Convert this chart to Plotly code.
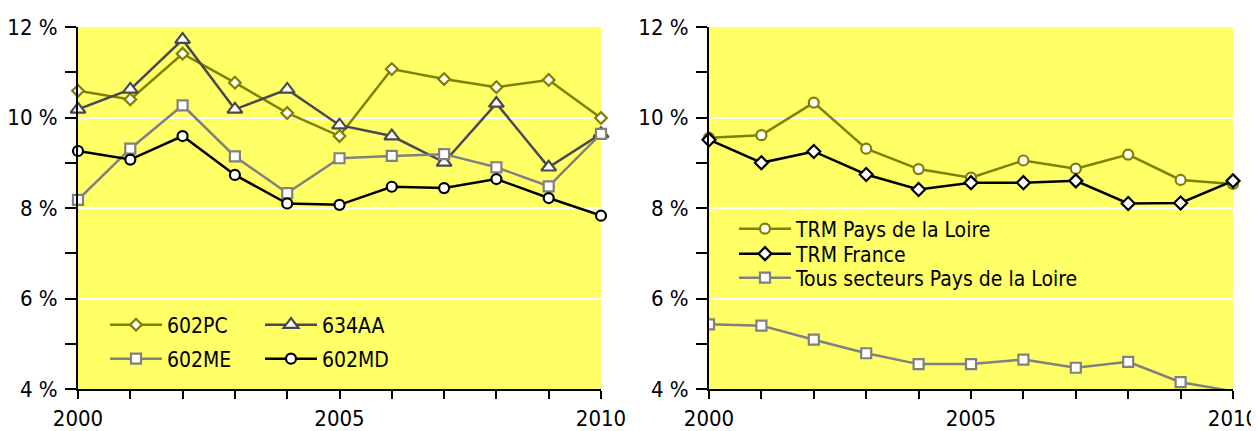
import plotly.graph_objects as go

years = list(range(2000, 2011))

# Left panel
s_602PC = [10.59, 10.40, 11.41, 10.77, 10.10, 9.59, 11.07, 10.85, 10.67, 10.83, 9.99]
s_634AA = [10.18, 10.62, 11.72, 10.18, 10.62, 9.83, 9.59, 9.01, 10.31, 8.90, 9.64]
s_602ME = [8.18, 9.31, 10.27, 9.14, 8.33, 9.10, 9.15, 9.19, 8.90, 8.48, 9.64]
s_602MD = [9.26, 9.07, 9.59, 8.73, 8.10, 8.07, 8.47, 8.44, 8.64, 8.22, 7.83]

# Right panel
s_trm_pdl = [9.55, 9.61, 10.33, 9.31, 8.86, 8.67, 9.05, 8.87, 9.18, 8.62, 8.53]
s_trm_fr = [9.51, 9.00, 9.25, 8.74, 8.41, 8.56, 8.56, 8.60, 8.10, 8.11, 8.60]
s_tous_pdl = [5.43, 5.40, 5.09, 4.79, 4.55, 4.55, 4.65, 4.47, 4.60, 4.15, 3.95]

y_tickvals = [4, 6, 8, 10, 12]
y_ticktext = ["4 %", "6 %", "8 %", "10 %", "12 %"]
x_tickvals = [2000, 2005, 2010]
x_ticktext = ["2000", "2005", "2010"]

FONT = "DejaVu Sans Condensed, Liberation Sans Narrow, sans-serif"
OLIVE = "#808000"
DARK = "#484850"
GRAY = "#808080"
BLACK = "#000000"
YELLOW = "#FFFF66"

# the page body adds an 8px offset; screen coords = figure coords + OFF
OFF = 8
W, H = 1259, 431
MT = 27 - OFF
MB = H - (389 - OFF)
PH = H - MT - MB


def px_x(p):
    return (p - OFF) / W


def px_y(p):
    return 1 - (p - OFF - MT) / PH


fig = go.Figure()


def add(name, y, color, symbol, size, xa, ya, legend, clip=False):
    fig.add_trace(go.Scatter(
        x=years, y=y, name=name, mode="lines+markers",
        line=dict(color=color, width=2.5),
        marker=dict(symbol=symbol, size=size, color="white",
                    line=dict(color=color, width=2.2)),
        xaxis=xa, yaxis=ya, legend=legend, cliponaxis=clip,
    ))


add("602PC", s_602PC, OLIVE, "diamond", 9, "x", "y", "legend")
add("634AA", s_634AA, DARK, "triangle-up", 13, "x", "y", "legend2")
add("602ME", s_602ME, GRAY, "square", 10, "x", "y", "legend3")
add("602MD", s_602MD, BLACK, "circle", 10, "x", "y", "legend4")
add("TRM Pays de la Loire", s_trm_pdl, OLIVE, "circle", 10, "x2", "y2", "legend5")
add("TRM France", s_trm_fr, BLACK, "diamond", 10, "x2", "y2", "legend6")
add("Tous secteurs Pays de la Loire", s_tous_pdl, GRAY, "square", 10, "x2", "y2", "legend7", clip=True)

xdom1 = [px_x(78), px_x(601)]
xdom2 = [px_x(709), px_x(1233)]

TICKFONT = dict(family=FONT, size=22, color="black")

xcommon = dict(range=[2000, 2010], tickvals=x_tickvals, ticktext=x_ticktext,
               ticks="outside", ticklen=8, tickwidth=2, tickcolor="black",
               minor=dict(dtick=1, tick0=2000, ticks="outside", ticklen=8, tickwidth=2,
                          tickcolor="black", showgrid=False),
               showline=True, linecolor="black", linewidth=2, showgrid=False,
               zeroline=False, tickfont=TICKFONT, ticklabelstandoff=1, automargin=False,
               fixedrange=True)
ycommon = dict(range=[4, 12], tickvals=y_tickvals, ticktext=y_ticktext,
               ticks="outside", ticklen=11, tickwidth=2, tickcolor="black",
               minor=dict(dtick=1, tick0=4, ticks="outside", ticklen=11, tickwidth=2,
                          tickcolor="black", showgrid=False),
               showline=True, linecolor="black", linewidth=2,
               showgrid=True, gridcolor="white", gridwidth=2, zeroline=False,
               tickfont=TICKFONT, ticklabelstandoff=3, automargin=False,
               fixedrange=True)

xin = dict(range=[2000, 2010], tickvals=years, ticks="inside", ticklen=9, tickwidth=2,
           tickcolor="black", showticklabels=False, showline=False, showgrid=False,
           zeroline=False, fixedrange=True, automargin=False)
yin = dict(range=[4, 12], tickvals=[4, 5, 6, 7, 8, 9, 10, 11, 12], ticks="inside", ticklen=5,
           tickwidth=2, tickcolor="black", showticklabels=False, showline=False,
           showgrid=False, zeroline=False, fixedrange=True, automargin=False)

fig.update_layout(
    width=W, height=H,
    margin=dict(l=0, r=0, t=MT, b=MB, pad=0, autoexpand=False),
    paper_bgcolor="white", plot_bgcolor=YELLOW,
    font=dict(family=FONT, size=21, color="black"),
    xaxis=dict(domain=xdom1, anchor="y", **xcommon),
    yaxis=dict(domain=[0, 1], anchor="x", **ycommon),
    xaxis2=dict(domain=xdom2, anchor="y2", **xcommon),
    yaxis2=dict(domain=[0, 1], anchor="x2", **ycommon),
    xaxis3=dict(overlaying="x", anchor="y", **xin),
    yaxis3=dict(overlaying="y", anchor="x", **yin),
    xaxis4=dict(overlaying="x2", anchor="y2", **xin),
    yaxis4=dict(overlaying="y2", anchor="x2", **yin),
    showlegend=True,
)

leg_common = dict(bgcolor="rgba(0,0,0,0)", borderwidth=0, itemwidth=52,
                  font=dict(family=FONT, size=21, color="black"),
                  xanchor="left", yanchor="middle", itemclick=False, itemdoubleclick=False)
fig.update_layout(
    legend=dict(x=px_x(105), y=px_y(325), **leg_common),
    legend2=dict(x=px_x(260), y=px_y(325), **leg_common),
    legend3=dict(x=px_x(105), y=px_y(359), **leg_common),
    legend4=dict(x=px_x(260), y=px_y(359), **leg_common),
    legend5=dict(x=px_x(734), y=px_y(229), **leg_common),
    legend6=dict(x=px_x(734), y=px_y(254), **leg_common),
    legend7=dict(x=px_x(734), y=px_y(278), **leg_common),
)

fig.write_html("out.html")
